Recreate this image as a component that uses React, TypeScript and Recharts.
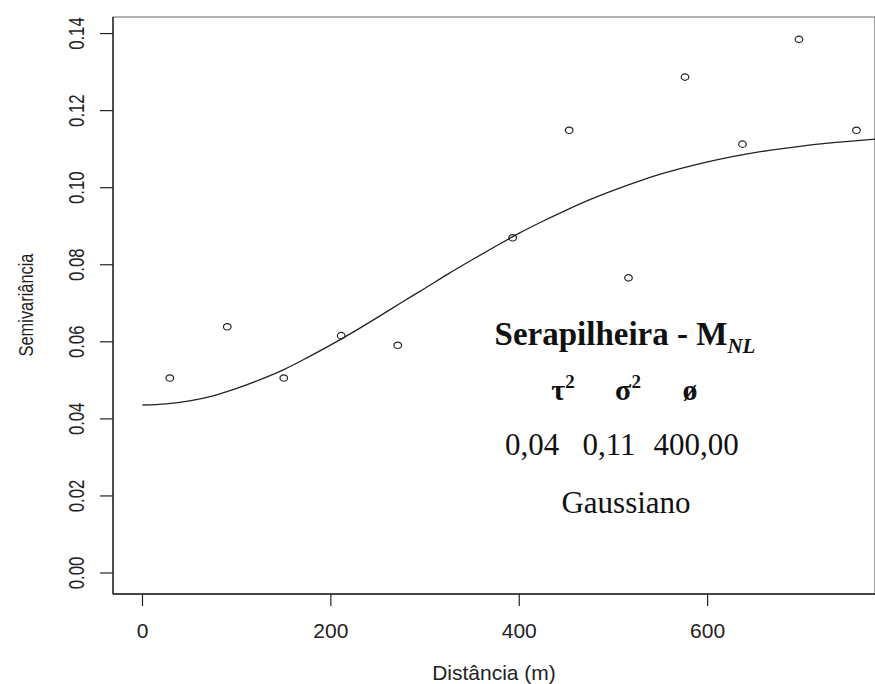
import React from "react";
import {
  ComposedChart,
  Line,
  Scatter,
  XAxis,
  YAxis,
  ReferenceArea,
} from "recharts";

// empirical semivariogram (lag distance in m)
const lagDistances = [29, 90, 150, 211, 271, 393, 453, 516, 576, 637, 697, 758];
const semivariance = [
  0.0506, 0.0639, 0.0506, 0.0616, 0.0591, 0.087, 0.1149, 0.0766, 0.1287, 0.1113,
  0.1385, 0.1149,
];

// fitted gaussian model curve
const modelDistances = [
  0, 25, 50, 75, 100, 125, 150, 175, 200, 225, 250, 275, 300, 325, 350, 375, 400,
  425, 450, 475, 500, 525, 550, 575, 600, 625, 650, 675, 700, 725, 750, 778,
];
const modelValues = [
  0.0436, 0.0439, 0.0447, 0.046, 0.0479, 0.0502, 0.0528, 0.0559, 0.0592, 0.0627,
  0.0664, 0.0702, 0.0739, 0.0777, 0.0813, 0.0848, 0.0882, 0.0913, 0.0942, 0.0969,
  0.0993, 0.1015, 0.1035, 0.1052, 0.1067, 0.108, 0.1091, 0.11, 0.1108, 0.1115,
  0.112, 0.1126,
];

const xTicks = [0, 200, 400, 600];
const yTicks = [0, 0.02, 0.04, 0.06, 0.08, 0.1, 0.12, 0.14];

const X_DOMAIN: [number, number] = [-31.3, 777.7];
const Y_DOMAIN: [number, number] = [-0.00545, 0.1443];

const points = lagDistances.map((h, i) => ({ h, g: semivariance[i] }));
const curve = modelDistances.map((h, i) => ({ h, g: modelValues[i] }));

const INK = "#222";
const SANS = "'Liberation Sans', Arial, sans-serif";
const SERIF = "'Liberation Serif', 'Times New Roman', serif";

function XTick({ x, payload }: any) {
  return (
    <text x={x} y={638} textAnchor="middle" fontSize={21} fontFamily={SANS} fill={INK}>
      {payload.value}
    </text>
  );
}

function YTick({ y, payload }: any) {
  return (
    <text
      transform={`translate(84, ${y}) rotate(-90) scale(0.76, 1)`}
      textAnchor="middle"
      fontSize={22}
      fontFamily={SANS}
      fill={INK}
    >
      {Number(payload.value).toFixed(2)}
    </text>
  );
}

function OpenCircle({ cx, cy }: any) {
  return <ellipse cx={cx} cy={cy} rx={3.8} ry={3.2} fill="none" stroke={INK} strokeWidth={1.2} />;
}

export default function App() {
  return (
    <div style={{ position: "absolute", left: 0, top: 0, width: 875, height: 684, background: "#fff" }}>
      <ComposedChart width={875} height={684} margin={{ top: 17, right: 0, bottom: 0, left: 0 }}>
        <XAxis
          type="number"
          dataKey="h"
          domain={X_DOMAIN}
          allowDataOverflow
          ticks={xTicks}
          tick={<XTick />}
          tickSize={12}
          tickLine={{ stroke: INK, strokeWidth: 1.2 }}
          axisLine={{ stroke: INK, strokeWidth: 1.3 }}
          height={90}
        />
        <YAxis
          type="number"
          dataKey="g"
          domain={Y_DOMAIN}
          allowDataOverflow
          ticks={yTicks}
          tick={<YTick />}
          tickSize={13}
          tickLine={{ stroke: INK, strokeWidth: 1.2 }}
          axisLine={{ stroke: INK, strokeWidth: 1.3 }}
          width={113}
        />
        <ReferenceArea
          x1={X_DOMAIN[0]}
          x2={X_DOMAIN[1]}
          y1={Y_DOMAIN[0]}
          y2={Y_DOMAIN[1]}
          fill="none"
          stroke="#666"
          strokeWidth={1.2}
          ifOverflow="visible"
        />
        <Line
          data={curve}
          dataKey="g"
          type="monotone"
          stroke={INK}
          strokeWidth={1.3}
          dot={false}
          activeDot={false}
          isAnimationActive={false}
        />
        <Scatter data={points} dataKey="g" shape={<OpenCircle />} isAnimationActive={false} />
      </ComposedChart>

      {/* axis titles and model annotation */}
      <svg
        width={875}
        height={684}
        style={{ position: "absolute", left: 0, top: 0, pointerEvents: "none" }}
      >
        <text x={494} y={680} textAnchor="middle" fontSize={21} fontFamily={SANS} fill={INK}>
          Distância (m)
        </text>
        <text
          transform="translate(33, 305) rotate(-90) scale(0.78, 1)"
          textAnchor="middle"
          fontSize={21}
          fontFamily={SANS}
          fill={INK}
        >
          Semivariância
        </text>

        <text x={625} y={345} textAnchor="middle" fontFamily={SERIF} fill="#111" fontWeight="bold">
          <tspan fontSize={33}>Serapilheira - M</tspan>
          <tspan fontSize={21} fontStyle="italic" dy={8}>NL</tspan>
        </text>

        <g fontFamily={SERIF} fill="#111" fontWeight="bold">
          <text x={563} y={400} textAnchor="middle">
            <tspan fontSize={30}>τ</tspan>
            <tspan fontSize={19} dy={-12}>2</tspan>
          </text>
          <text x={628} y={400} textAnchor="middle">
            <tspan fontSize={30}>σ</tspan>
            <tspan fontSize={19} dy={-12}>2</tspan>
          </text>
          <text x={690} y={400} textAnchor="middle" fontSize={30}>
            ø
          </text>
        </g>

        <g fontFamily={SERIF} fill="#111" fontSize={31}>
          <text x={532} y={455} textAnchor="middle">0,04</text>
          <text x={609} y={455} textAnchor="middle">0,11</text>
          <text x={696} y={455} textAnchor="middle">400,00</text>
          <text x={626} y={513} textAnchor="middle">Gaussiano</text>
        </g>
      </svg>
    </div>
  );
}
